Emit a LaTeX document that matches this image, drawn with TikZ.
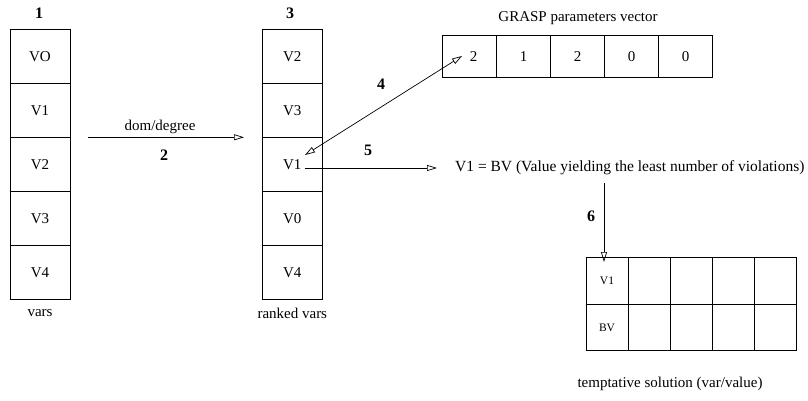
\documentclass[tikz,border=0pt]{standalone}
\usepackage{fontspec}
\setmainfont{Liberation Serif}
\usetikzlibrary{arrows.meta}
\begin{document}
\begin{tikzpicture}[x=1pt,y=-1pt,
  cell/.style={draw, line width=0.8pt, inner sep=0pt, minimum width=60pt, minimum height=54pt, font=\fontsize{15}{17}\selectfont},
  gcell/.style={draw, line width=0.8pt, inner sep=0pt, minimum width=54pt, minimum height=42pt, font=\fontsize{15}{17}\selectfont},
  scell/.style={draw, line width=0.8pt, inner sep=0pt, minimum width=42pt, minimum height=46.7pt, font=\fontsize{11.5}{13}\selectfont},
  num/.style={font=\fontsize{16}{18}\selectfont\bfseries},
  lbl/.style={font=\fontsize{15}{17}\selectfont},
  arr/.style={line width=0.7pt, -{Triangle[open,length=10pt,width=6pt]}},
  darr/.style={line width=0.7pt, {Triangle[open,length=10pt,width=6pt]}-{Triangle[open,length=10pt,width=6pt]}}]
\useasboundingbox (0,0) rectangle (808,401);
% column 1
\node[num] (n1) at (39,13) {1};
\node[cell] (a0) at (40,56.3) {VO};
\node[cell] (a1) at (40,110.3) {V1};
\node[cell] (a2) at (40,164.3) {V2};
\node[cell] (a3) at (40,218.3) {V3};
\node[cell] (a4) at (40,272.3) {V4};
\node[lbl] (vars) at (40,313) {vars};
% arrow 2
\coordinate (s2) at (88,137.3);
\coordinate (e2) at (244,137.3);
\draw[arr] (s2) -- (e2);
\node[lbl] (dom) at (160,127) {dom/degree};
\node[num] (n2) at (164,155) {2};
% column 2
\node[num] (n3) at (290,13) {3};
\node[cell] (b0) at (292.3,56.3) {V2};
\node[cell] (b1) at (292.3,110.3) {V3};
\node[cell] (b2) at (292.3,164.3) {V1};
\node[cell] (b3) at (292.3,218.3) {V0};
\node[cell] (b4) at (292.3,272.3) {V4};
\node[lbl] (rv) at (292.3,313) {ranked vars};
% GRASP vector
\node[lbl] (gt) at (578,18) {GRASP parameters vector};
\node[gcell] (g0) at (469.5,56.3) {\hspace*{8pt}2};
\node[gcell] (g1) at (523.5,56.3) {1};
\node[gcell] (g2) at (577.5,56.3) {2};
\node[gcell] (g3) at (631.5,56.3) {0};
\node[gcell] (g4) at (685.5,56.3) {0};
% arrow 4
\coordinate (s4) at (305,155);
\coordinate (e4) at (462,56);
\draw[darr] (s4) -- (e4);
\node[num] (n4) at (381,84) {4};
% arrow 5
\coordinate (s5) at (305,168);
\coordinate (e5) at (437,168);
\draw[arr] (s5) -- (e5);
\node[num] (n5) at (368,150) {5};
\node[anchor=west, inner sep=0pt, font=\fontsize{15.5}{17}\selectfont] (bv) at (455,168) {V1 = BV (Value yielding the least number of violations)};
% arrow 6
\coordinate (s6) at (604,183);
\coordinate (e6) at (604,262);
\draw[arr] (s6) -- (e6);
\node[num] (n6) at (591,216) {6};
% solution grid
\node[scell] (c00) at (607,280.7) {V1};
\node[scell] (c01) at (649,280.7) {};
\node[scell] (c02) at (691,280.7) {};
\node[scell] (c03) at (733,280.7) {};
\node[scell] (c04) at (775,280.7) {};
\node[scell] (c10) at (607,327.4) {BV};
\node[scell] (c11) at (649,327.4) {};
\node[scell] (c12) at (691,327.4) {};
\node[scell] (c13) at (733,327.4) {};
\node[scell] (c14) at (775,327.4) {};
\node[lbl] (ts) at (670,384) {temptative solution (var/value)};
\end{tikzpicture}
\end{document}
